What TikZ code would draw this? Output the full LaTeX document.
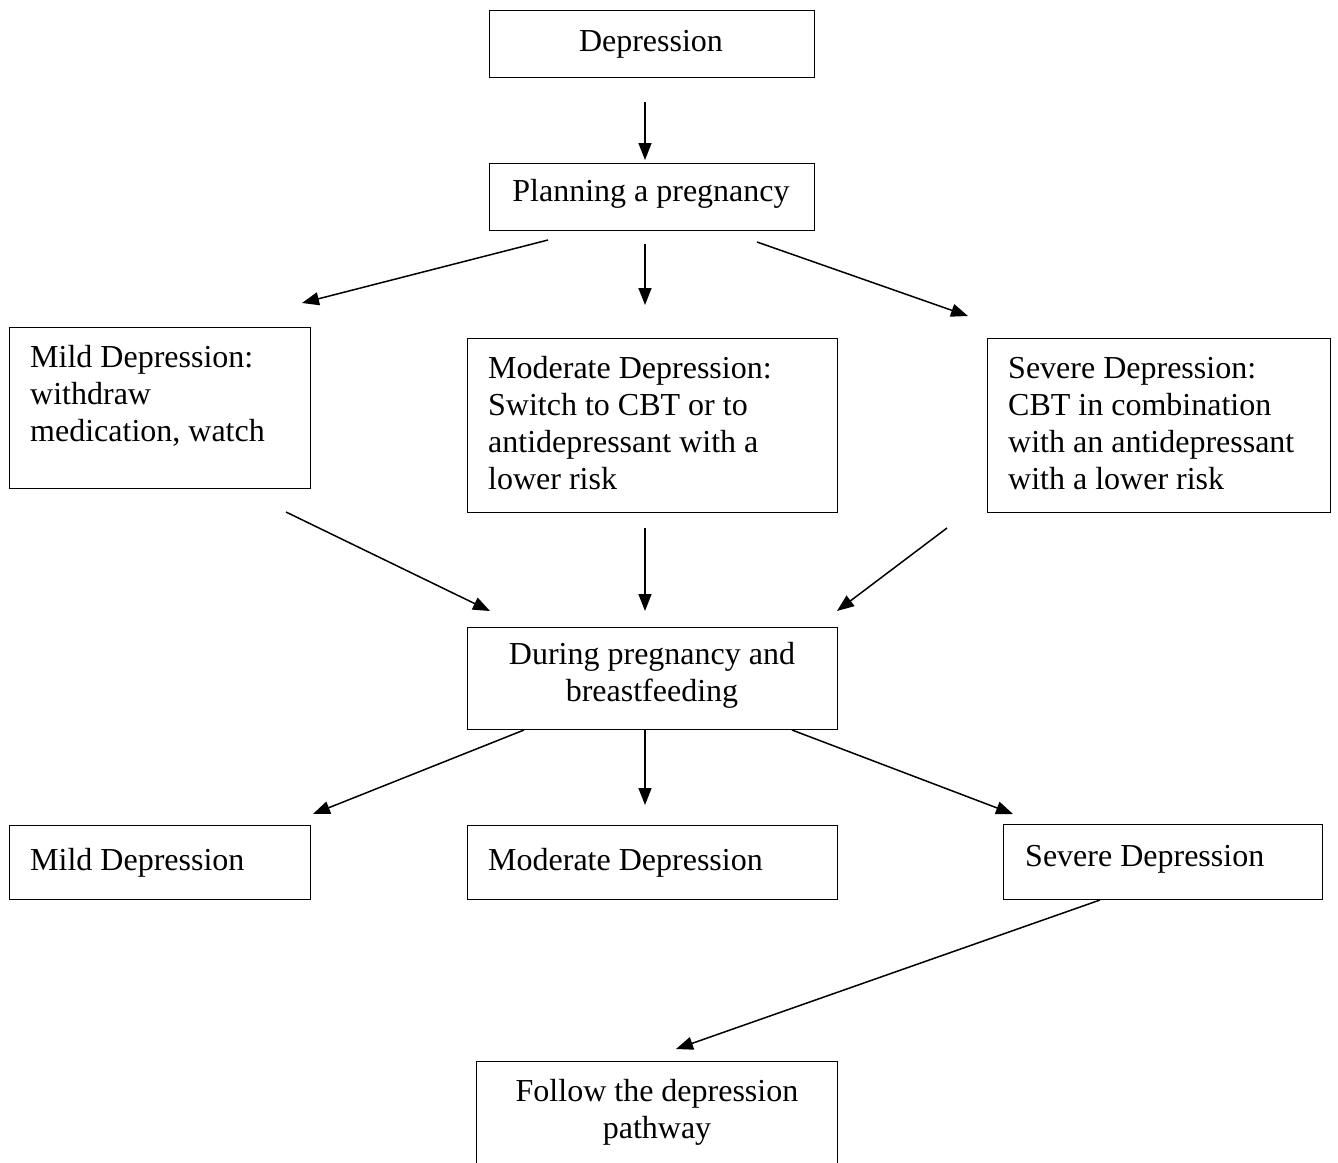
\documentclass[tikz,border=0pt]{standalone}
\usepackage{fontspec}
\setmainfont{Liberation Serif}
\usetikzlibrary{arrows.meta}
\tikzset{
  box/.style={draw, line width=1.4pt, anchor=north west, inner sep=0pt},
  txt/.style={inner sep=0pt, font=\fontsize{32}{37}\selectfont},
  ltxt/.style={txt, align=left, anchor=base west},
  ctxt/.style={txt, align=center, anchor=base},
  arr/.style={line width=1.5pt, -{Triangle[length=17pt,width=13pt]}}
}
\begin{document}
\begin{tikzpicture}[x=1pt,y=-1pt]
\useasboundingbox (0,0) rectangle (1338,1162);
% boxes
\node[box, minimum width=325pt, minimum height=67pt] (dep) at (489,10) {};
\node[box, minimum width=325pt, minimum height=67pt] (plan) at (489,163) {};
\node[box, minimum width=301pt, minimum height=161pt] (mildA) at (9,327) {};
\node[box, minimum width=370pt, minimum height=174pt] (modA) at (467,338) {};
\node[box, minimum width=343pt, minimum height=174pt] (sevA) at (987,338) {};
\node[box, minimum width=370pt, minimum height=102pt] (during) at (467,627) {};
\node[box, minimum width=301pt, minimum height=74pt] (mildB) at (9,825) {};
\node[box, minimum width=370pt, minimum height=74pt] (modB) at (467,825) {};
\node[box, minimum width=319pt, minimum height=75pt] (sevB) at (1003,824) {};
\node[box, minimum width=361pt, minimum height=140pt] (follow) at (476,1061) {};
% texts (base anchor = baseline of last line)
\node[ctxt] (depT) at (651,51) {Depression};
\node[ctxt] (planT) at (651,201) {Planning a pregnancy};
\node[ltxt] (mildAT) at (30,441) {Mild Depression:\\withdraw\\medication, watch};
\node[ltxt] (modAT) at (488,489) {Moderate Depression:\\Switch to CBT or to\\antidepressant with a\\lower risk};
\node[ltxt] (sevAT) at (1008,489) {Severe Depression:\\CBT in combination\\with an antidepressant\\with a lower risk};
\node[ctxt] (duringT) at (652,701) {During pregnancy and\\breastfeeding};
\node[ltxt] (mildBT) at (30,870) {Mild Depression};
\node[ltxt] (modBT) at (488,870) {Moderate Depression};
\node[ltxt] (sevBT) at (1025,866) {Severe Depression};
\node[ctxt] (followT) at (657,1138) {Follow the depression\\pathway};
% arrow end points
\coordinate (a1s) at (645,102); \coordinate (a1e) at (645,160);
\coordinate (a2s) at (548,240); \coordinate (a2e) at (302,303);
\coordinate (a3s) at (645,244); \coordinate (a3e) at (645,305);
\coordinate (a4s) at (757,242); \coordinate (a4e) at (968,316);
\coordinate (a5s) at (286,512); \coordinate (a5e) at (490,611);
\coordinate (a6s) at (645,528); \coordinate (a6e) at (645,611);
\coordinate (a7s) at (947,528); \coordinate (a7e) at (837,611);
\coordinate (a8s) at (524,730); \coordinate (a8e) at (313,814);
\coordinate (a9s) at (645,730); \coordinate (a9e) at (645,805);
\coordinate (a10s) at (792,730); \coordinate (a10e) at (1013,814);
\coordinate (a11s) at (1100,900); \coordinate (a11e) at (676,1049);
\foreach \i in {1,...,11} \draw[arr] (a\i s) -- (a\i e);
\end{tikzpicture}
\end{document}
